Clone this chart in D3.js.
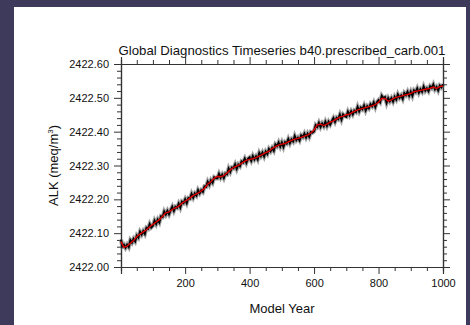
<!DOCTYPE html>
<meta charset="utf-8">
<script src="https://d3js.org/d3.v7.min.js"></script>
<style>
  body { margin: 0; background: #3d3a5b; }
  text { font-family: "Liberation Sans", Arial, Helvetica, sans-serif; fill: #111; }
  .axis path, .axis line { stroke: #333; }
</style>
<div id="chart"></div>
<script>
  // ALK annual (sampled every 5 model years, first point year 1)
  var annualYears = [1].concat(d3.range(5, 1001, 5));
  var annualAlk = [
    2422.081, 2422.061, 2422.066, 2422.057, 2422.066, 2422.059, 2422.079, 2422.072, 2422.083, 2422.076,
    2422.093, 2422.087, 2422.104, 2422.096, 2422.106, 2422.098, 2422.116, 2422.113, 2422.127, 2422.117,
    2422.122, 2422.137, 2422.127, 2422.140, 2422.132, 2422.150, 2422.148, 2422.164, 2422.155, 2422.166,
    2422.156, 2422.168, 2422.178, 2422.166, 2422.178, 2422.175, 2422.187, 2422.176, 2422.193, 2422.189,
    2422.200, 2422.189, 2422.204, 2422.202, 2422.216, 2422.205, 2422.217, 2422.211, 2422.227, 2422.218,
    2422.227, 2422.222, 2422.238, 2422.237, 2422.252, 2422.243, 2422.256, 2422.249, 2422.265, 2422.262,
    2422.262, 2422.275, 2422.264, 2422.273, 2422.263, 2422.276, 2422.274, 2422.291, 2422.281, 2422.294,
    2422.292, 2422.303, 2422.290, 2422.303, 2422.298, 2422.312, 2422.309, 2422.320, 2422.308, 2422.320,
    2422.324, 2422.314, 2422.328, 2422.318, 2422.327, 2422.318, 2422.337, 2422.328, 2422.338, 2422.327,
    2422.341, 2422.334, 2422.349, 2422.342, 2422.352, 2422.344, 2422.362, 2422.357, 2422.368, 2422.356,
    2422.368, 2422.355, 2422.369, 2422.365, 2422.378, 2422.366, 2422.377, 2422.371, 2422.387, 2422.375,
    2422.382, 2422.374, 2422.389, 2422.384, 2422.394, 2422.383, 2422.394, 2422.385, 2422.399, 2422.397,
    2422.401, 2422.419, 2422.414, 2422.426, 2422.414, 2422.424, 2422.416, 2422.429, 2422.417, 2422.429,
    2422.421, 2422.431, 2422.440, 2422.429, 2422.441, 2422.437, 2422.450, 2422.436, 2422.451, 2422.446,
    2422.444, 2422.459, 2422.449, 2422.460, 2422.451, 2422.462, 2422.458, 2422.473, 2422.460, 2422.471,
    2422.466, 2422.477, 2422.463, 2422.475, 2422.469, 2422.481, 2422.475, 2422.486, 2422.473, 2422.487,
    2422.493, 2422.487, 2422.506, 2422.499, 2422.502, 2422.485, 2422.499, 2422.490, 2422.499, 2422.489,
    2422.503, 2422.495, 2422.510, 2422.500, 2422.507, 2422.497, 2422.514, 2422.508, 2422.518, 2422.506,
    2422.518, 2422.506, 2422.522, 2422.517, 2422.528, 2422.515, 2422.525, 2422.518, 2422.533, 2422.521,
    2422.528, 2422.520, 2422.534, 2422.529, 2422.539, 2422.525, 2422.532, 2422.522, 2422.536, 2422.531,
    2422.540
  ];

  // ALK smoothed (every 10 model years, first point year 1)
  var smoothYears = [1].concat(d3.range(10, 1001, 10));
  var smoothAlk = [
    2422.075, 2422.058, 2422.062, 2422.070, 2422.078, 2422.090, 2422.097, 2422.104, 2422.110, 2422.119,
    2422.126, 2422.133, 2422.140, 2422.150, 2422.160, 2422.163, 2422.170, 2422.175, 2422.180, 2422.188,
    2422.195, 2422.200, 2422.208, 2422.214, 2422.218, 2422.225, 2422.232, 2422.245, 2422.252, 2422.262,
    2422.268, 2422.267, 2422.270, 2422.278, 2422.287, 2422.294, 2422.298, 2422.303, 2422.310, 2422.315,
    2422.318, 2422.320, 2422.323, 2422.328, 2422.333, 2422.338, 2422.342, 2422.350, 2422.356, 2422.360,
    2422.363, 2422.365, 2422.370, 2422.374, 2422.378, 2422.380, 2422.383, 2422.387, 2422.390, 2422.396,
    2422.405, 2422.420, 2422.422, 2422.418, 2422.422, 2422.428, 2422.432, 2422.438, 2422.443, 2422.446,
    2422.450, 2422.452, 2422.458, 2422.462, 2422.466, 2422.468, 2422.471, 2422.474, 2422.476, 2422.480,
    2422.487, 2422.498, 2422.498, 2422.490, 2422.494, 2422.500, 2422.503, 2422.505, 2422.508, 2422.510,
    2422.513, 2422.518, 2422.520, 2422.522, 2422.524, 2422.526, 2422.528, 2422.532, 2422.528, 2422.533,
    2422.535
  ];

  var xTicks = [200, 400, 600, 800, 1000];
  var yTicks = [2422.00, 2422.10, 2422.20, 2422.30, 2422.40, 2422.50, 2422.60];
  var titleText = "Global Diagnostics Timeseries b40.prescribed_carb.001";

  // Boilerplate
  var W = 470, H = 325;
  var margin = { top: 64, right: 27, bottom: 58, left: 121 },
      width = W - margin.left - margin.right,
      height = H - margin.top - margin.bottom;

  var root = d3.select("#chart")
               .append("svg")
               .attr("width", W)
               .attr("height", H);

  // white page panel
  root.append("rect")
      .attr("x", 14).attr("y", 7)
      .attr("width", 452).attr("height", H - 7)
      .attr("fill", "#fff");

  var svg = root.append("g")
                .attr("transform", "translate(" + margin.left + "," + margin.top + ")");

  // Scales
  var x = d3.scaleLinear().domain([1, 1000]).range([0, width]);
  var y = d3.scaleLinear().domain([2422.0, 2422.6]).range([height, 0]);

  var xMinor = d3.range(50, 1001, 50).filter(function (d) { return d % 200 !== 0; });
  var yMinor = d3.range(0, 31).map(function (i) { return 2422 + i * 0.02; })
                 .filter(function (d, i) { return i % 5 !== 0; });

  // minor + major ticks on one side
  function axisPair(axisFn, scale, majors, minors, fmt, pos) {
    var gm = svg.append("g").attr("class", "axis");
    if (pos) gm.attr("transform", pos);
    gm.call(axisFn(scale).tickValues(minors).tickSize(4).tickFormat(""));
    var gM = svg.append("g").attr("class", "axis");
    if (pos) gM.attr("transform", pos);
    gM.call(axisFn(scale).tickValues(majors).tickSize(7).tickPadding(5).tickFormat(fmt));
    gM.selectAll("text").style("font-size", "11px");
    return gM;
  }

  axisPair(d3.axisBottom, x, xTicks, xMinor, d3.format("d"), "translate(0," + height + ")");
  axisPair(d3.axisTop, x, xTicks, xMinor, "");
  axisPair(d3.axisLeft, y, yTicks, yMinor, d3.format(".2f"));
  axisPair(d3.axisRight, y, yTicks, yMinor, "", "translate(" + width + ",0)");

  svg.selectAll(".axis path").attr("stroke-width", 1.2);

  // Lines
  var annual = annualYears.map(function (d, i) { return [d, annualAlk[i]]; });
  var smooth = smoothYears.map(function (d, i) { return [d, smoothAlk[i]]; });
  var line = d3.line()
               .x(function (d) { return x(d[0]); })
               .y(function (d) { return y(d[1]); });

  // grey halo under the annual series
  svg.append("path")
     .datum(annual)
     .attr("fill", "none")
     .attr("stroke", "#666")
     .attr("stroke-opacity", 0.6)
     .attr("stroke-width", 4.2)
     .attr("d", line);

  svg.append("path")
     .datum(annual)
     .attr("fill", "none")
     .attr("stroke", "#000")
     .attr("stroke-width", 2)
     .attr("d", line);

  svg.append("path")
     .datum(smooth)
     .attr("fill", "none")
     .attr("stroke", "#e00000")
     .attr("stroke-width", 1.4)
     .attr("d", line);

  // Titles
  svg.append("text")
     .attr("x", width / 2).attr("y", -9)
     .attr("text-anchor", "middle")
     .style("font-size", "13.2px")
     .text(titleText);

  svg.append("text")
     .attr("x", width / 2).attr("y", height + 46)
     .attr("text-anchor", "middle")
     .style("font-size", "13px")
     .text("Model Year");

  var yl = svg.append("text")
     .attr("transform", "translate(-63," + (height / 2) + ") rotate(-90)")
     .attr("text-anchor", "middle")
     .style("font-size", "13px");
  yl.append("tspan").text("ALK (meq/m");
  yl.append("tspan").attr("dy", -5).style("font-size", "8px").text("3");
  yl.append("tspan").attr("dy", 5).text(")");
</script>
